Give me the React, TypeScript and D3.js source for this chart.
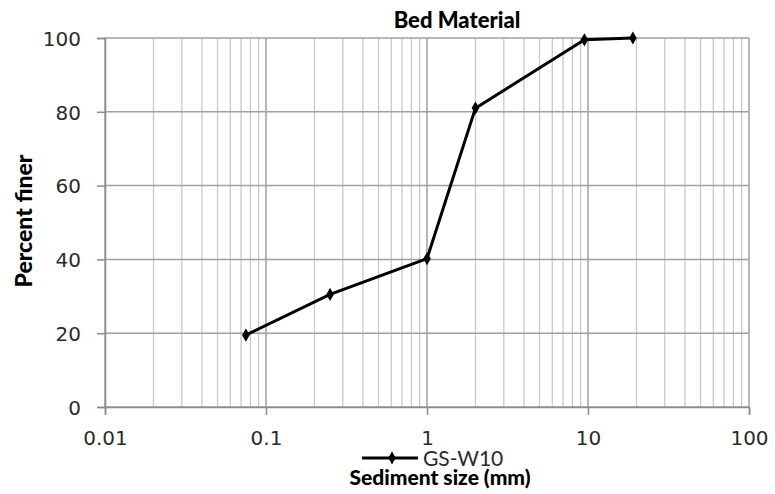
import React, { useRef, useEffect } from "react";
import * as d3 from "d3";

const sizes = [0.075, 0.25, 1, 2, 9.5, 19];
const finer = [19.5, 30.5, 40.2, 81, 99.5, 100];
const yTicks = [0, 20, 40, 60, 80, 100];
const xTicks = [0.01, 0.1, 1, 10, 100];
const xTickLabels = ["0.01", "0.1", "1", "10", "100"];
const seriesName = "GS-W10";

const W = 775;
const H = 494;
const M = { left: 105, right: 26, top: 38, bottom: 87 };

const App: React.FC = () => {
  const svgRef = useRef<SVGSVGElement | null>(null);

  useEffect(() => {
    const svg = d3.select(svgRef.current);
    svg.selectAll("*").remove();

    const x = d3.scaleLog().domain([0.01, 100]).range([M.left, W - M.right]);
    const y = d3.scaleLinear().domain([0, 100]).range([H - M.bottom, M.top]);

    // minor vertical grid
    const minors: number[] = [];
    for (let e = -2; e < 2; e++) {
      for (let k = 2; k <= 9; k++) minors.push(k * Math.pow(10, e));
    }
    svg
      .append("g")
      .selectAll("line")
      .data(minors)
      .enter()
      .append("line")
      .attr("x1", (d) => x(d))
      .attr("x2", (d) => x(d))
      .attr("y1", y(0))
      .attr("y2", y(100))
      .attr("stroke", "#c8c8c8")
      .attr("stroke-width", 1.3);

    // major grid
    svg
      .append("g")
      .selectAll("line")
      .data(xTicks)
      .enter()
      .append("line")
      .attr("x1", (d) => x(d))
      .attr("x2", (d) => x(d))
      .attr("y1", y(0))
      .attr("y2", y(100))
      .attr("stroke", "#a0a0a0")
      .attr("stroke-width", 1.5);
    svg
      .append("g")
      .selectAll("line")
      .data(yTicks)
      .enter()
      .append("line")
      .attr("x1", x(0.01))
      .attr("x2", x(100))
      .attr("y1", (d) => y(d))
      .attr("y2", (d) => y(d))
      .attr("stroke", "#a0a0a0")
      .attr("stroke-width", 1.5);

    // axes
    const yAxis = svg
      .append("g")
      .attr("transform", `translate(${M.left},0)`)
      .call(d3.axisLeft(y).tickValues(yTicks).tickSize(8).tickPadding(16));
    const xAxis = svg
      .append("g")
      .attr("transform", `translate(0,${H - M.bottom})`)
      .call(
        d3
          .axisBottom(x)
          .tickValues(xTicks)
          .tickFormat((_, i) => xTickLabels[i])
          .tickSize(8)
          .tickPadding(16)
      );
    [yAxis, xAxis].forEach((g) => {
      g.select(".domain").attr("stroke", "#8c8c8c").attr("stroke-width", 1.5);
      g.selectAll(".tick line").attr("stroke", "#8c8c8c").attr("stroke-width", 1.5);
      g.selectAll(".tick text")
        .attr("fill", "#2a2a2a")
        .style("font-family", "'DejaVu Sans', Verdana, sans-serif")
        .style("font-size", "20px");
    });
    yAxis.selectAll(".tick text").attr("dy", "0.36em");
    xAxis.selectAll(".tick text").attr("dy", "0.72em");

    // series
    const pts = sizes.map((s, i) => [s, finer[i]] as [number, number]);
    const line = d3
      .line<[number, number]>()
      .x((d) => x(d[0]))
      .y((d) => y(d[1]));
    svg
      .append("path")
      .datum(pts)
      .attr("d", line)
      .attr("fill", "none")
      .attr("stroke", "#000")
      .attr("stroke-width", 3);

    const diamond = d3.symbol().type(d3.symbolDiamond).size(50);
    svg
      .append("g")
      .selectAll("path")
      .data(pts)
      .enter()
      .append("path")
      .attr("d", diamond as any)
      .attr("transform", (d) => `translate(${x(d[0])},${y(d[1])})`)
      .attr("fill", "#000");

    // legend
    const lg = svg.append("g").attr("transform", "translate(362,458)");
    lg.append("line")
      .attr("x1", 0)
      .attr("x2", 56)
      .attr("stroke", "#000")
      .attr("stroke-width", 3);
    lg.append("path")
      .attr("d", diamond as any)
      .attr("transform", "translate(30,0)")
      .attr("fill", "#000");
    lg.append("text")
      .attr("x", 61)
      .attr("y", 8)
      .text(seriesName)
      .style("font-family", "Lato, sans-serif")
      .style("font-size", "21px")
      .attr("fill", "#2a2a2a");

    // titles
    svg
      .append("text")
      .attr("x", 457)
      .attr("y", 28)
      .attr("text-anchor", "middle")
      .text("Bed Material")
      .style("font-family", "Lato, sans-serif")
      .style("font-weight", "900")
      .style("font-size", "22px");
    svg
      .append("text")
      .attr("x", 440)
      .attr("y", 485)
      .attr("text-anchor", "middle")
      .text("Sediment size (mm)")
      .style("font-family", "Lato, sans-serif")
      .style("font-weight", "900")
      .style("font-size", "21px");
    svg
      .append("text")
      .attr("transform", "translate(32,221) rotate(-90)")
      .attr("text-anchor", "middle")
      .text("Percent finer")
      .style("font-family", "Lato, sans-serif")
      .style("font-weight", "900")
      .style("font-size", "23px");
  }, []);

  return (
    <svg
      ref={svgRef}
      width={W}
      height={H}
      style={{ position: "absolute", left: 0, top: 0, background: "#fff" }}
    />
  );
};

export default App;
